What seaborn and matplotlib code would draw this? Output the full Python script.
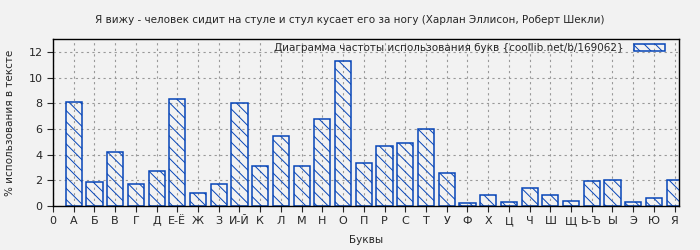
import numpy as np
import pandas as pd
import matplotlib
matplotlib.use("Agg")
import matplotlib.pyplot as plt
import seaborn as sns

letters = ["А", "Б", "В", "Г", "Д", "Е-Ё", "Ж", "З", "И-Й", "К", "Л", "М", "Н", "О",
           "П", "Р", "С", "Т", "У", "Ф", "Х", "Ц", "Ч", "Ш", "Щ", "Ь-Ъ", "Ы", "Э", "Ю", "Я"]
values = [8.10, 1.87, 4.21, 1.71, 2.73, 8.34, 1.01, 1.71, 8.03, 3.12, 5.45, 3.12, 6.78, 11.30,
          3.35, 4.68, 4.91, 6.00, 2.57, 0.21, 0.86, 0.31, 1.40, 0.86, 0.39, 1.97, 2.03, 0.31, 0.62, 2.03]
tick_labels = ["0"] + letters
title = "Я вижу - человек сидит на стуле и стул кусает его за ногу (Харлан Эллисон, Роберт Шекли)"
legend_label = "Диаграмма частоты использования букв {coollib.net/b/169062}"

sns.set_style("white")
plt.rcParams['font.family'] = ['DejaVu Sans']
plt.rcParams['hatch.linewidth'] = 0.7
plt.rcParams['hatch.color'] = '#0645b8'

df = pd.DataFrame({"pos": np.arange(1, len(letters) + 1), "val": values})

fig = plt.figure(figsize=(7, 2.5), dpi=100, facecolor='#f2f2f2')
ax = fig.add_axes([0.0757, 0.176, 0.894, 0.668])
ax.set_facecolor('#f2f2f2')

H = '\\\\\\'
sns.barplot(data=df, x="pos", y="val", native_scale=True, width=0.78,
            color='none', edgecolor='#0645b8', linewidth=1.1, ax=ax,
            hatch=H, label=legend_label, errorbar=None)
for p in ax.patches:
    p.set_facecolor('none')
    p.set_hatch(H)
    p.set_edgecolor('#0645b8')

ax.set_xlim(0, 30.2)
ax.set_ylim(0, 13)
ax.set_xticks(np.arange(0, 31))
ax.set_xticklabels(tick_labels, fontsize=8)
ax.set_yticks(np.arange(0, 13, 2))
ax.tick_params(axis='y', labelsize=8, direction='out', length=4, left=True)
ax.tick_params(axis='x', direction='out', length=4, bottom=True)
ax.grid(True, linestyle=(0, (2, 3)), color='#999999', linewidth=0.8)
ax.set_axisbelow(True)
for s in ax.spines.values():
    s.set_color('black')
    s.set_linewidth(1.0)

ax.set_xlabel("Буквы", fontsize=7.5, labelpad=6)
ax.set_ylabel("% использования в тексте", fontsize=7.5, labelpad=10)
fig.suptitle(title, fontsize=7.5, y=0.94)

leg = ax.legend(loc='upper right', frameon=False, fontsize=7.5, markerfirst=False,
                handlelength=3.0, handleheight=0.6, borderaxespad=0.1, borderpad=0.3,
                handletextpad=1.0, bbox_to_anchor=(0.985, 1.0))

fig.savefig("out.png", dpi=100, facecolor=fig.get_facecolor())
